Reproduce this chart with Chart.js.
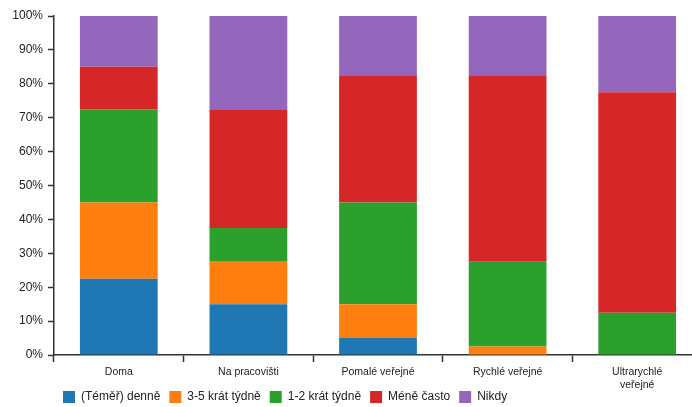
<!DOCTYPE html>
<html>
<head>
<meta charset="utf-8">
<script src="https://cdn.jsdelivr.net/npm/chart.js@4/dist/chart.umd.min.js"></script>
<style>
    html, body { margin: 0; padding: 0; background: #fff; overflow: hidden; }
    #obal { position: relative; width: 702px; height: 413px; }
</style>
</head>
<body>
<div id="obal"><canvas id="graf"></canvas></div>
<script>
// kategorie (popisky osy x)
var kategorie = ['Doma', 'Na pracovišti', 'Pomalé veřejné', 'Rychlé veřejné', ['Ultrarychlé', 'veřejné']];

// podily v procentech pro kazdou rovinu
var denne = [22.5, 15, 5, 0, 0];
var tridnyTydne = [22.5, 12.5, 10, 2.5, 0];
var jednouDvakrat = [27.5, 10, 30, 25, 12.5];
var meneCasto = [12.5, 35, 37.5, 55, 65];
var nikdy = [15, 27.5, 17.5, 17.5, 22.5];

var nazvySerii = ['(Téměř) denně', '3-5 krát týdně', '1-2 krát týdně', 'Méně často', 'Nikdy'];
var barvy = ['#1f77b4', '#ff7f0e', '#2ca02c', '#d62728', '#9467bd'];

var hodnoty = [denne, tridnyTydne, jednouDvakrat, meneCasto, nikdy];

var datasety = hodnoty.map(function (data, i) {
    return {
        label: nazvySerii[i],
        data: data,
        backgroundColor: barvy[i],
        borderWidth: 0,
        barPercentage: 0.6,
        categoryPercentage: 1
    };
});

var barvaOsy = '#333';
var pismo = '"Liberation Sans", Arial, sans-serif';

// popisky osy x se jinak orezou na vysku osy (druhy radek prekryva legenda)
var neorezavat = {
    id: 'neorezavat',
    afterLayout: function (chart) {
        chart.scales.x.bottom = chart.height;
    }
};

new Chart(document.getElementById('graf').getContext('2d'), {
    type: 'bar',
    data: {
        labels: kategorie,
        datasets: datasety
    },
    plugins: [neorezavat],
    options: {
        responsive: true,
        maintainAspectRatio: false,
        animation: false,
        layout: { padding: { top: 16, right: 0, left: 0, bottom: 0 } },
        plugins: {
            tooltip: { enabled: false },
            legend: {
                position: 'bottom',
                align: 'start',
                fullSize: false,
                labels: {
                    boxWidth: 12,
                    boxHeight: 12,
                    padding: 9,
                    color: '#222',
                    font: { family: pismo, size: 12 }
                }
            }
        },
        scales: {
            x: {
                stacked: true,
                afterFit: function (osa) { osa.height = 27; },
                border: { color: barvaOsy, width: 1.5 },
                grid: { drawOnChartArea: false, tickLength: 7, color: barvaOsy, tickWidth: 1.5 },
                ticks: {
                    color: '#222',
                    padding: 4,
                    maxRotation: 0,
                    autoSkip: false,
                    font: { family: pismo, size: 10.5 }
                }
            },
            y: {
                stacked: true,
                min: 0,
                max: 100,
                afterFit: function (osa) { osa.width = 54; },
                border: { color: barvaOsy, width: 1.5 },
                grid: { drawOnChartArea: false, tickLength: 6, color: barvaOsy, tickWidth: 1.5 },
                ticks: {
                    stepSize: 10,
                    color: '#222',
                    padding: 5,
                    font: { family: pismo, size: 12 },
                    callback: function (v) { return v + '%'; }
                }
            }
        }
    }
});
</script>
</body>
</html>
